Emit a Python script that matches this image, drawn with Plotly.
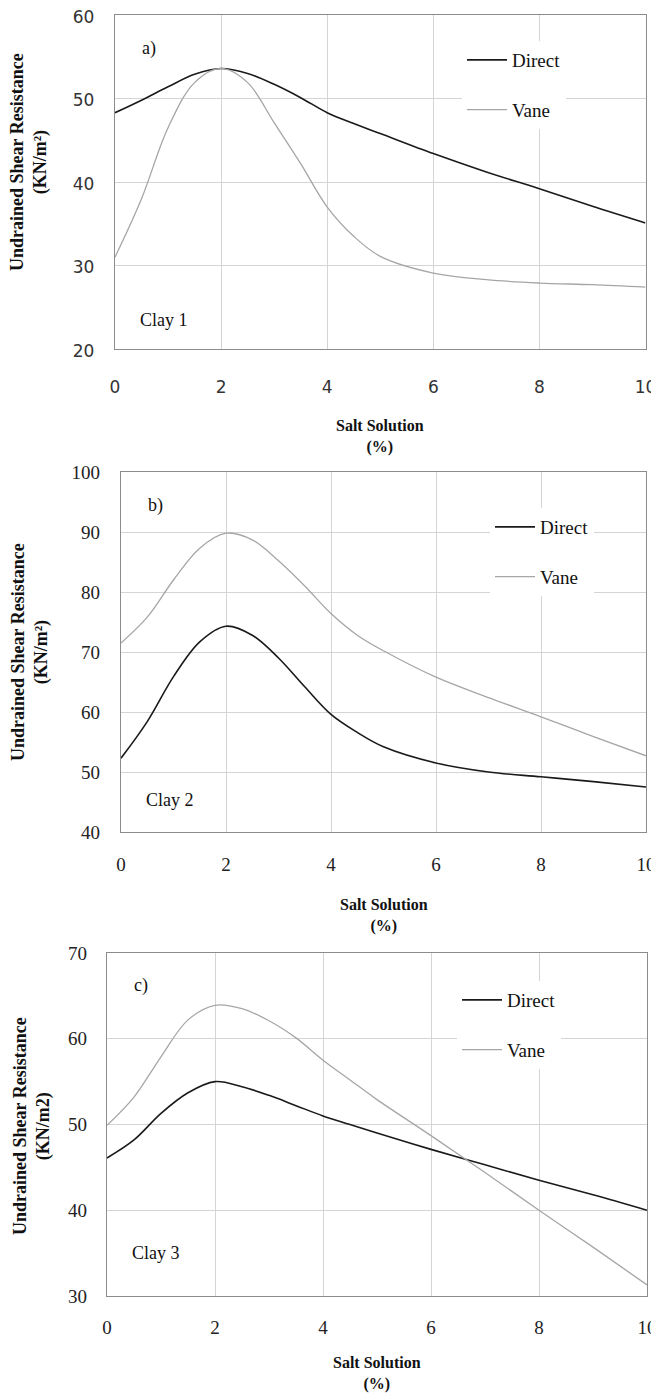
import plotly.graph_objects as go

# the page body adds an 8px margin, so the figure is drawn 8px smaller and
# every reference pixel position is shifted by OFF
OFF = 8
W, H = 659 - OFF, 1394 - OFF

# salt solution (%) sample positions
SALT = [0, 0.5, 1, 1.5, 2, 2.5, 3, 3.5, 4, 4.5, 5, 6, 7, 8, 9, 10]

# Clay 1
CLAY1_DIRECT = [48.3, 49.8, 51.4, 52.9, 53.6, 53.0, 51.7, 50.1, 48.3, 47.0, 45.8, 43.4, 41.2, 39.2, 37.1, 35.1]
CLAY1_VANE = [31.0, 38.0, 46.5, 51.9, 53.6, 51.9, 47.1, 42.2, 37.0, 33.5, 31.1, 29.1, 28.3, 27.9, 27.7, 27.4]

# Clay 2
CLAY2_DIRECT = [52.3, 58.4, 65.9, 71.7, 74.3, 72.8, 69.0, 64.2, 59.6, 56.6, 54.2, 51.5, 50.0, 49.2, 48.4, 47.5]
CLAY2_VANE = [71.5, 75.8, 82.0, 87.3, 89.8, 88.7, 85.2, 81.0, 76.4, 72.8, 70.2, 65.8, 62.4, 59.2, 55.9, 52.7]

# Clay 3
CLAY3_DIRECT = [46.1, 48.2, 51.3, 53.7, 55.0, 54.4, 53.4, 52.2, 51.0, 50.0, 49.0, 47.1, 45.3, 43.5, 41.8, 40.0]
CLAY3_VANE = [49.9, 53.2, 57.9, 62.2, 63.9, 63.5, 62.1, 60.1, 57.5, 55.2, 52.9, 48.7, 44.4, 40.0, 35.7, 31.3]

X_TICKS = [0, 2, 4, 6, 8, 10]

SERIF = "Liberation Serif, Times New Roman, serif"
SANS = "DejaVu Sans, Verdana, sans-serif"
DIRECT_COLOR = "#1a1a1a"
VANE_COLOR = "#a6a6a6"
GRID = "#d4d4d4"
BORDER = "#8c8c8c"


def px(v):
    return (v - OFF) / W


def py(v):
    return 1 - (v - OFF) / H


# panel boxes in reference pixels: (left, right, top, bottom)
panels = [
    dict(box=(115, 645.5, 15, 349), yr=(20, 60), dy=10, tickfont=dict(family=SANS, size=17, color="#333"),
         direct=CLAY1_DIRECT, vane=CLAY1_VANE, tag="a)", clay="Clay 1", unit="(KN/m²)",
         legend=(462, 41), xstand=22, ystand=16, yshift=2, xtitle=436, ytitle=(29, 162), clay_y=320),
    dict(box=(121, 646, 472, 832), yr=(40, 100), dy=10, tickfont=dict(family=SERIF, size=19, color="#222"),
         direct=CLAY2_DIRECT, vane=CLAY2_VANE, tag="b)", clay="Clay 2", unit="(KN/m²)",
         legend=(490, 508), xstand=15, ystand=16, yshift=0, xtitle=915, ytitle=(30, 652), clay_y=800),
    dict(box=(107, 647, 953, 1296), yr=(30, 70), dy=10, tickfont=dict(family=SERIF, size=19, color="#222"),
         direct=CLAY3_DIRECT, vane=CLAY3_VANE, tag="c)", clay="Clay 3", unit="(KN/m2)",
         legend=(457, 981), xstand=14, ystand=15, yshift=0, xtitle=1373, ytitle=(32, 1126), clay_y=1253),
]

fig = go.Figure()
annotations = []

for i, p in enumerate(panels, start=1):
    sfx = "" if i == 1 else str(i)
    left, right, top, bottom = p["box"]
    leg = "legend" if i == 1 else f"legend{i}"

    for name, ys, color, width in [("Direct", p["direct"], DIRECT_COLOR, 1.6),
                                   ("Vane", p["vane"], VANE_COLOR, 1.3)]:
        fig.add_trace(go.Scatter(
            x=SALT, y=ys, mode="lines", name=name,
            line=dict(color=color, width=width, shape="spline", smoothing=1.0),
            xaxis=f"x{sfx}", yaxis=f"y{sfx}", legend=leg,
            legendgroup=f"{name}{i}",
        ))

    fig.layout[f"xaxis{sfx}"] = dict(
        domain=[px(left), px(right)], anchor=f"y{sfx}", automargin=False,
        range=[0, 10], tickvals=X_TICKS, showgrid=True, gridcolor=GRID, gridwidth=1,
        showline=True, linecolor=BORDER, linewidth=1.3, mirror=True,
        ticks="", tickfont=p["tickfont"], ticklabelstandoff=p["xstand"], zeroline=False,
        ticklabeloverflow="allow",
    )
    fig.layout[f"yaxis{sfx}"] = dict(
        domain=[py(bottom), py(top)], anchor=f"x{sfx}", automargin=False,
        range=list(p["yr"]), dtick=p["dy"], showgrid=True, gridcolor=GRID, gridwidth=1,
        showline=True, linecolor=BORDER, linewidth=1.3, mirror=True,
        ticks="", tickfont=p["tickfont"], ticklabelstandoff=p["ystand"], zeroline=False,
        ticklabelshift=p["yshift"], ticklabeloverflow="allow",
    )

    lx, ly = p["legend"]
    fig.layout[leg] = dict(
        x=px(lx), y=py(ly), xanchor="left", yanchor="top",
        bgcolor="white", borderwidth=0, tracegroupgap=22,
        font=dict(family=SERIF, size=19, color="#111"),
        itemwidth=40,
    )

    cx = (left + right) / 2
    # x axis title
    annotations.append(dict(
        text="<b>Salt Solution</b><br><b>(%)</b>", xref="paper", yref="paper",
        x=px(cx), y=py(p["xtitle"]), xanchor="center", yanchor="middle",
        showarrow=False, font=dict(family=SERIF, size=16, color="#111"),
    ))
    # y axis title
    tx, ty = p["ytitle"]
    annotations.append(dict(
        text=f"<b>Undrained Shear Resistance</b><br><b>{p['unit']}</b>", xref="paper", yref="paper",
        x=px(tx), y=py(ty), xanchor="center", yanchor="middle",
        textangle=-90, showarrow=False, font=dict(family=SERIF, size=18, color="#111"),
    ))
    # panel tag and clay name
    annotations.append(dict(
        text=p["tag"], xref=f"x{sfx} domain", yref=f"y{sfx} domain",
        x=25 / (right - left), y=1 - 33 / (bottom - top), xanchor="left", yanchor="middle",
        showarrow=False, font=dict(family=SERIF, size=18, color="#111"),
    ))
    annotations.append(dict(
        text=p["clay"], xref=f"x{sfx} domain", yref=f"y{sfx} domain",
        x=23 / (right - left), y=(bottom - p["clay_y"]) / (bottom - top), xanchor="left", yanchor="middle",
        showarrow=False, font=dict(family=SERIF, size=18, color="#111"),
    ))

fig.update_layout(
    width=W, height=H,
    margin=dict(l=0, r=0, t=0, b=0),
    paper_bgcolor="white", plot_bgcolor="white",
    annotations=annotations,
    showlegend=True,
)

fig.write_html("out.html")
